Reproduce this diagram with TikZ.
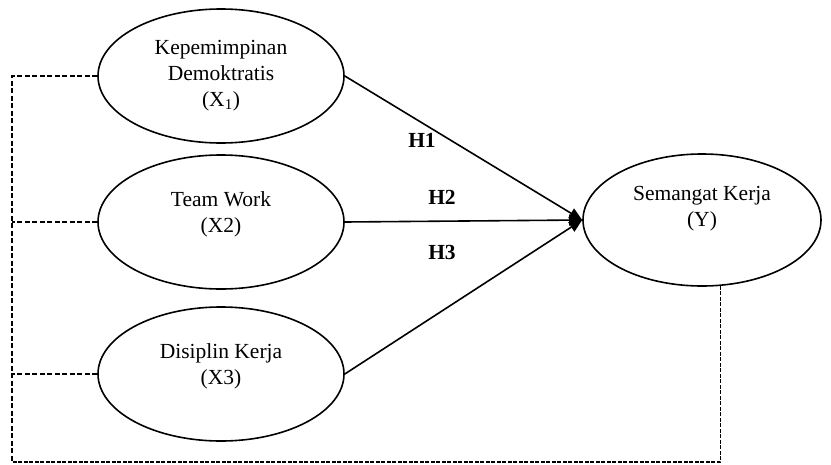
\documentclass[tikz,border=0pt]{standalone}
\usepackage{fontspec}
\setmainfont{Liberation Serif}
\usetikzlibrary{shapes.geometric,arrows.meta}
\begin{document}
\begin{tikzpicture}[x=1pt,y=-1pt,
  var/.style={draw,ellipse,line width=1.6pt,minimum width=246pt,minimum height=134pt,inner sep=0pt},
  vartext/.style={align=center,font=\fontsize{21.5}{26}\selectfont},
  hyp/.style={font=\fontsize{21.5}{26}\selectfont\bfseries},
  link/.style={line width=1.6pt,-{Triangle[length=13pt,width=11pt]}},
  cov/.style={line width=1.6pt,dash pattern=on 5pt off 2.5pt},
  covb/.style={line width=1.1pt,dash pattern=on 4pt off 1.5pt}]

\useasboundingbox (0,0) rectangle (831,464);

% latent variables
\node[var] (x1) at (221,76) {};
\node[vartext] (x1t) at (x1) {Kepemimpinan\\Demoktratis\\(X\textsubscript{1})};
\node[var] (x2) at (221,222) {};
\node[vartext,yshift=8pt] (x2t) at (x2) {Team Work\\(X2)};
\node[var] (x3) at (221,374) {};
\node[vartext,yshift=8pt] (x3t) at (x3) {Disiplin Kerja\\(X3)};
\node[var,minimum width=238pt,minimum height=132pt] (y) at (702,220) {};
\node[vartext,yshift=11pt] (yt) at (y) {Semangat Kerja\\(Y)};

% hypotheses
\foreach \v in {x1,x2,x3}
    \draw[link] (\v.east) -- (y.west);
\node[hyp] (h1) at (422,140) {H1};
\node[hyp] (h2) at (442,197) {H2};
\node[hyp] (h3) at (442,252) {H3};

% dashed frame
\coordinate (cl) at (12,462);
\draw[cov] (x1.west) -| (cl);
\foreach \v in {x2,x3}
    \draw[cov] (\v.west) -- (\v.west -| cl);
\draw[covb] (y.-74) |- (cl);

\end{tikzpicture}
\end{document}
